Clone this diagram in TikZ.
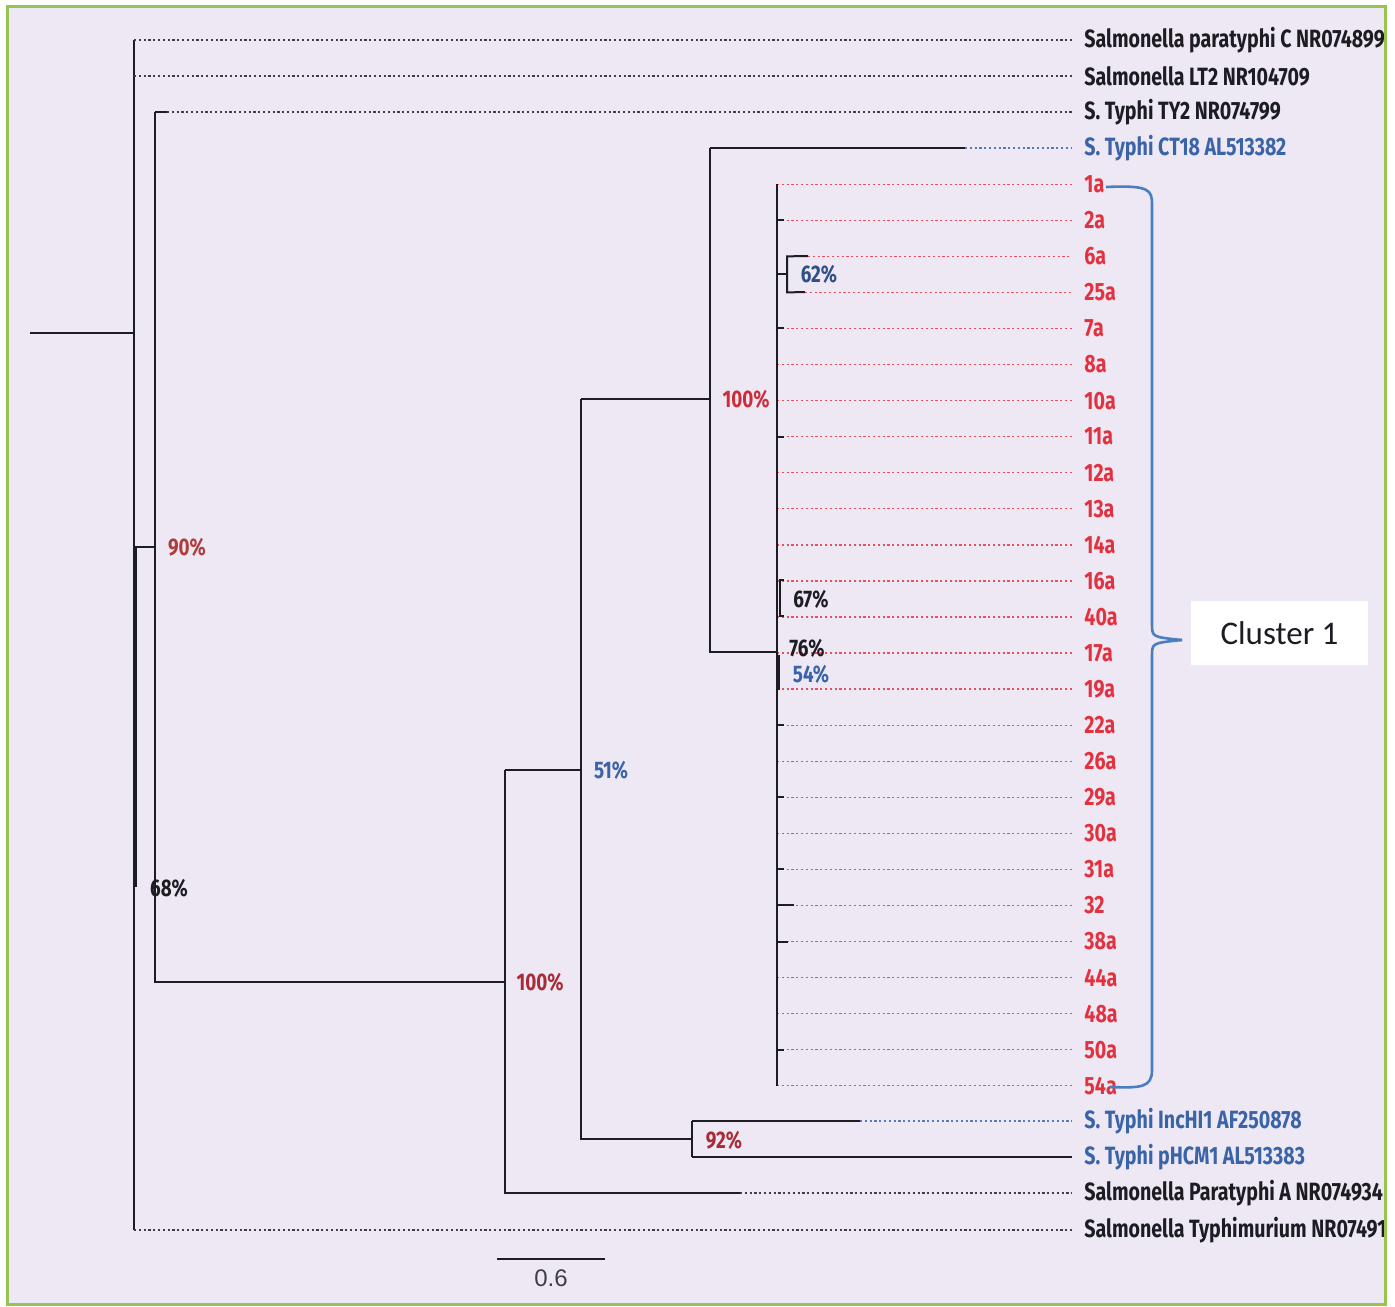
\documentclass[tikz,border=0pt]{standalone}
\usepackage{fontspec}
\newfontfamily\treefont[FakeStretch=0.785]{Fira Sans}
\newfontfamily\boxfont{Carlito}
\newfontfamily\barfont{Liberation Sans}
\usetikzlibrary{positioning,calc}
\definecolor{paper}{RGB}{237,232,243}
\definecolor{frame}{RGB}{150,196,80}
\definecolor{ink}{RGB}{28,28,34}
\definecolor{isored}{RGB}{226,50,64}
\definecolor{refblue}{RGB}{58,100,168}
\definecolor{bootred}{RGB}{168,44,56}
\definecolor{bracecol}{RGB}{74,126,193}

\begin{document}
\begin{tikzpicture}[x=0.5pt,y=-0.5pt,>=latex,
  br/.style={line width=1pt,draw=ink},
  lf/.style={line width=0.65pt,dash pattern=on 1.1pt off 1.3pt,draw=ink!85,shorten >=6pt},
  lfred/.style={lf,draw=isored!85},
  lfblue/.style={lf,draw=refblue!85},
  tip/.style={anchor=west,inner sep=0pt,text=ink,font=\treefont\bfseries\fontsize{12.5}{14}\selectfont},
  pct/.style={inner sep=0pt,font=\treefont\bfseries\fontsize{12}{13}\selectfont}]
  \useasboundingbox (0,0) rectangle (1395,1306);
  \fill[white] (0,0) rectangle (1395,1306);
  \fill[paper] (7,6) rectangle (1385,1304);
  \begin{scope}
  \clip (7,6) rectangle (1384,1304);
  % outgroup leaves
  \node[tip] (pC) at (1084,40) {Salmonella paratyphi C NR074899};
  \node[tip] (lt2) at (1084,76) {Salmonella LT2 NR104709};
  \node[tip] (ty2) at (1084,112) {S. Typhi TY2 NR074799};
  \node[tip,text=refblue] (ct18) at (1084,148) {S. Typhi CT18 AL513382};
  \node[tip,text=refblue] (inc) at (1084,1121) {S. Typhi IncHI1 AF250878};
  \node[tip,text=refblue] (phc) at (1084,1157) {S. Typhi pHCM1 AL513383};
  \node[tip] (pA) at (1084,1193) {Salmonella Paratyphi A NR074934};
  \node[tip] (tym) at (1084,1230) {Salmonella Typhimurium NR074910};
  % internal nodes
  \coordinate (root) at (30,333);
  \coordinate (n0) at (134,333);
  \coordinate (n90) at (155,547);
  \coordinate (nA) at (505,982);
  \coordinate (nB) at (581,770);
  \coordinate (nC) at (692,1139);
  \coordinate (nD) at (710,399);
  \coordinate (nE) at (777,652);
  \coordinate (nF) at (787,274);
  % branches
  \draw[br] (root) -- (n0);
  \draw[br] (n0 |- pC) -- (n0 |- tym);
  \draw[line width=2pt,draw=ink] (135,547) -- (135,887);
  \draw[br] (n0 |- n90) -- (n90);
  \draw[br] (n90 |- ty2) -- (n90 |- nA) -- (nA);
  \draw[br] (nA |- nB) -- (nA |- pA) -- (740,1193);
  \draw[br] (nA |- nB) -- (nB);
  \draw[br] (nB |- nD) -- (nB |- nC) -- (nC);
  \draw[br] (nB |- nD) -- (nD);
  \draw[br] (nC |- inc) -- (nC |- phc);
  \draw[br] (nC |- inc) -- (860,1121);
  \draw[br,shorten >=6pt] (nC |- phc) -- (phc);
  \draw[br] (nD |- ct18) -- (nD |- nE) -- (nE);
  \draw[br] (nD |- ct18) -- (965,148);
  \draw[br] (n90 |- ty2) -- (167,112);
  \draw[lf] (n0 |- pC) -- (pC);
  \draw[lf] (n0 |- lt2) -- (lt2);
  \draw[lf] (167,112) -- (ty2);
  \draw[lfblue] (965,148) -- (ct18);
  \draw[lfblue] (860,1121) -- (inc);
  \draw[lf] (740,1193) -- (pA);
  \draw[lf] (n0 |- tym) -- (tym);
  % cluster 1 leaves
  \foreach \r/\t/\d in {4/1a/777,5/2a/777,6/6a/808,7/25a/805,8/7a/777,9/8a/777,
      10/10a/777,11/11a/777,12/12a/777,13/13a/777,14/14a/777,15/16a/777,16/40a/777,
      17/17a/777,18/19a/777,19/22a/777,20/26a/777,21/29a/777,22/30a/777,23/31a/777,
      24/32/777,25/38a/777,26/44a/777,27/48a/777,28/50a/777,29/54a/777}{
    \node[tip,text=isored] (c\t) at (1084,{40+36.06*\r}) {\t};
    \draw[lfred] (\d,{40+36.06*\r}) -- (c\t);
  }
  \draw[br] (nE |- c1a) -- (nE |- c54a);
  \foreach \r/\s in {5/784,8/784,11/784,19/784,21/784,23/784,24/794,25/788,28/784}
    \draw[br] (777,{40+36.06*\r}) -- (\s,{40+36.06*\r});
  \draw[br] (nE |- nF) -- (nF);
  \draw[br] (808,256) -- (nF |- c6a) -- (nF |- c25a) -- (805,292);
  \draw[line width=0.7pt,draw=ink] (784,580) -- (780,580) -- (780,616) -- (784,616);
  \draw[line width=2pt,draw=ink] (778,655) -- (778,690);
  % support values
  \node[pct,text=bootred!80!brown] (b90) at (187,547) {90\%};
  \node[pct,text=ink] (b68) at (169,888) {68\%};
  \node[pct,text=bootred] (b100a) at (540,982) {100\%};
  \node[pct,text=refblue] (b51) at (611,770) {51\%};
  \node[pct,text=bootred] (b92) at (724,1140) {92\%};
  \node[pct,text=isored!90!black] (b100b) at (746,399) {100\%};
  \node[pct,text=refblue!80!black] (b62) at (819,274) {62\%};
  \node[pct,text=ink] (b67) at (811,599) {67\%};
  \node[pct,text=ink] (b76) at (807,648) {76\%};
  \node[pct,text=refblue] (b54) at (811,674) {54\%};
  % cluster brace and box
  \node[fill=white,minimum width=88.5pt,minimum height=32pt,inner sep=0pt,
    font=\boxfont\fontsize{16.5}{18}\selectfont,text=ink] (clu) at (1279.5,633) {Cluster 1};
  \draw[line width=1.3pt,draw=bracecol] (1106,187) .. controls (1150,185) and (1152,190) .. (1152,205)
    -- (1152,624) .. controls (1152,637) .. (1182,640);
  \draw[line width=1.3pt,draw=bracecol] (1182,640) .. controls (1152,643) .. (1152,656)
    -- (1152,1070) .. controls (1152,1088) and (1140,1088) .. (1110,1087);
  % scale bar
  \coordinate (sbl) at (497,1259);
  \coordinate (sbr) at (605,1259);
  \draw[line width=0.75pt,draw=ink] (sbl) -- (sbr);
  \node[font=\barfont\fontsize{12}{14}\selectfont,text=ink!85,below=2pt of {$(sbl)!0.5!(sbr)$}] (sbt) {0.6};
  \end{scope}
  \draw[line width=1.5pt,draw=frame] (7,6) rectangle (1385,1304);
\end{tikzpicture}
\end{document}
